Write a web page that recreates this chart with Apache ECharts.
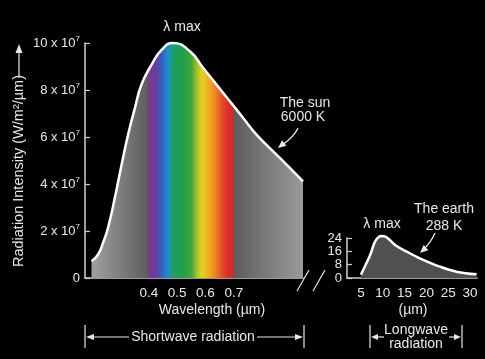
<!DOCTYPE html>
<html>
<head>
<meta charset="utf-8">
<script src="https://cdn.jsdelivr.net/npm/echarts@6/dist/echarts.min.js"></script>
<style>
html,body{margin:0;padding:0;background:#000;}
#c{width:485px;height:359px;}
</style>
</head>
<body>
<div id="c"></div>
<script>
// ---- data ----
// Sun (6000 K): wavelength (µm), radiation intensity in units of 10^7 W/m²/µm
const sunWavelength = [0.198,0.221,0.240,0.256,0.280,0.304,0.327,0.351,0.374,0.410,0.445,0.485,0.545,0.592,0.639,0.686,0.733,0.780,0.827,0.874,0.921,0.944];
const sunIntensity  = [0.71, 1.00, 1.55, 2.13, 3.40, 4.82, 6.10, 7.23, 8.23, 9.08, 9.71, 10.0, 9.65, 8.94, 8.23, 7.52, 6.81, 6.10, 5.53, 4.97, 4.40, 4.11];
// Earth (288 K): wavelength (µm), radiation intensity W/m²/µm
const earthWavelength = [5, 6, 7.1, 8.2, 9, 9.8, 10.6, 11.6, 13, 15.5, 18.5, 23.1, 26.9, 31.5];
const earthIntensity  = [2, 7.5, 13.8, 21.8, 24.5, 25.2, 24.8, 22.8, 19.5, 15.8, 11.8, 6.8, 3.8, 2.2];
// tick labels
const sunXTicks = [0.4, 0.5, 0.6, 0.7];
const sunYTicks = [0, 2, 4, 6, 8, 10];
const earthXTicks = [5, 10, 15, 20, 25, 30];
const earthYTicks = [0, 8, 16, 24];

// ---- style: colours along wavelength for the sun fill ----
const fillStops = [
  [0.198,'#a0a0a0'],[0.300,'#7e7e7e'],[0.395,'#5e5e5e'],
  [0.398,'#7a3a8a'],[0.425,'#6a3c9e'],[0.445,'#3a5cc0'],[0.462,'#1f86cc'],[0.475,'#1a98b8'],
  [0.485,'#1fa060'],[0.520,'#1f9e4a'],[0.550,'#3aa83a'],[0.570,'#a8c02a'],[0.588,'#e6d222'],
  [0.610,'#f0b023'],[0.635,'#ec8224'],[0.660,'#e24a28'],[0.680,'#dc2c2c'],[0.698,'#d42a2a'],
  [0.702,'#5c5c5c'],[0.800,'#767676'],[0.944,'#9a9a9a']
];

const FONT = 'Liberation Sans, Arial, Helvetica, sans-serif';
const TXT = '#e8e8e8';
const AX = '#cfcfcf';

const chart = echarts.init(document.getElementById('c'), null, {renderer:'canvas'});
const w0 = sunWavelength[0], w1 = sunWavelength[sunWavelength.length-1];
const sunGradient = new echarts.graphic.LinearGradient(0,0,1,0,
  fillStops.map(s => ({offset: Math.min(1, Math.max(0,(s[0]-w0)/(w1-w0))), color: s[1]})));

const sunData = sunWavelength.map((x,i)=>[x, sunIntensity[i]]);
const earthData = earthWavelength.map((x,i)=>[x, earthIntensity[i]]);

const axisCommon = {
  axisLine:{show:true, lineStyle:{color:AX, width:1.5}},
  axisTick:{show:true, inside:true, length:5, lineStyle:{color:AX, width:1.2}},
  splitLine:{show:false},
  axisLabel:{color:TXT, fontFamily:FONT, fontSize:13.5, showMinLabel:true, showMaxLabel:true, hideOverlap:false}
};

function arrowHead(tx, ty, dx, dy, len, half) {
  const n = Math.hypot(dx,dy); const ux=dx/n, uy=dy/n;
  const bx = tx-ux*len, by = ty-uy*len;
  return {type:'polygon', shape:{points:[[tx,ty],[bx-uy*half,by+ux*half],[bx+uy*half,by-ux*half]]}, style:{fill:TXT}};
}
function txt(x,y,t,size,align){
  return {type:'text', x:x, y:y, style:{text:t, fill:TXT, font:(size||14)+'px '+FONT, align:align||'center', verticalAlign:'middle'}};
}
function ln(x1,y1,x2,y2,wd){
  return {type:'line', shape:{x1,y1,x2,y2}, style:{stroke:TXT, lineWidth:wd||1.2}};
}

const option = {
  backgroundColor:'#000',
  animation:false,
  grid:[
    {left:85, top:43, right:182, bottom:81},
    {left:347, top:238, right:8, bottom:81}
  ],
  xAxis:[
    Object.assign({}, axisCommon, {gridIndex:0, type:'value', min:0.175, max:0.944,
      axisTick:Object.assign({}, axisCommon.axisTick, {customValues:sunXTicks}),
      axisLabel:Object.assign({}, axisCommon.axisLabel, {customValues:sunXTicks, margin:8, formatter:v=>String(v)})}),
    Object.assign({}, axisCommon, {gridIndex:1, type:'value', min:1.8, max:31.6,
      axisTick:Object.assign({}, axisCommon.axisTick, {customValues:earthXTicks}),
      axisLabel:Object.assign({}, axisCommon.axisLabel, {customValues:earthXTicks, margin:8})})
  ],
  yAxis:[
    Object.assign({}, axisCommon, {gridIndex:0, type:'value', min:0, max:10,
      axisTick:Object.assign({}, axisCommon.axisTick, {customValues:sunYTicks}),
      axisLabel:Object.assign({}, axisCommon.axisLabel, {customValues:sunYTicks, margin:5,
        formatter:v=> v===0 ? '{n|0}' : '{n|'+v+' x 10}{s|7}',
        rich:{n:{fontSize:13, fontFamily:FONT, color:TXT, lineHeight:16}, s:{fontSize:8, fontFamily:FONT, color:TXT, lineHeight:10, verticalAlign:'top'}}})}),
    Object.assign({}, axisCommon, {gridIndex:1, type:'value', min:0, max:24,
      axisTick:Object.assign({}, axisCommon.axisTick, {customValues:earthYTicks}),
      axisLabel:Object.assign({}, axisCommon.axisLabel, {customValues:earthYTicks, margin:5, fontSize:13, lineHeight:12})})
  ],
  series:[
    {type:'line', xAxisIndex:0, yAxisIndex:0, data:sunData, smooth:0.5, showSymbol:false, clip:false,
     lineStyle:{color:'#fff', width:2.5}, areaStyle:{color:sunGradient, opacity:1}},
    {type:'line', xAxisIndex:1, yAxisIndex:1, data:earthData, smooth:0.4, showSymbol:false, clip:false,
     lineStyle:{color:'#fff', width:2.5}, areaStyle:{color:'#505050', opacity:1}}
  ],
  graphic:[
    // y axis title with arrow
    {type:'text', x:19, y:171, rotation:Math.PI/2, style:{text:'Radiation Intensity (W/m²/µm)', fill:TXT, font:'14.5px '+FONT, align:'center', verticalAlign:'middle'}},
    ln(19,78,19,52,1.2),
    arrowHead(19,44,0,-1,9,3.5),
    // sun annotations
    txt(182,27,'λ max'),
    txt(305,103,'The sun'),
    txt(303,117,'6000 K'),
    {type:'bezierCurve', shape:{x1:298,y1:128,x2:282,y2:145,cpx1:294,cpy1:137}, style:{stroke:TXT, lineWidth:1.3, fill:null}},
    arrowHead(278,148,-1,0.8,8,3.5),
    txt(212,310,'Wavelength (µm)'),
    // axis break marks
    ln(297,291,309,270,1.2),
    ln(313,291,325,270,1.2),
    // shortwave bracket
    ln(85,325,85,348,1.2), ln(304,325,304,348,1.2),
    ln(92,337,129,337,1.2), arrowHead(86,337,-1,0,8,3),
    txt(193,337,'Shortwave radiation'),
    ln(257,337,297,337,1.2), arrowHead(303,337,1,0,8,3),
    // earth annotations
    txt(382,224,'λ max'),
    txt(444,209,'The earth'),
    txt(444,226,'288 K'),
    {type:'bezierCurve', shape:{x1:435,y1:233,x2:424,y2:249,cpx1:431,cpy1:242}, style:{stroke:TXT, lineWidth:1.3, fill:null}},
    arrowHead(420,253,-1,0.9,8,3.5),
    txt(413,310,'(µm)'),
    // longwave bracket
    ln(370,325,370,348,1.2), ln(462,325,462,348,1.2),
    txt(416,330,'Longwave'), txt(416,344,'radiation'),
    ln(376,337,384,337,1.2), arrowHead(371,337,-1,0,7,3),
    ln(449,337,456,337,1.2), arrowHead(461,337,1,0,7,3)
  ]
};
chart.setOption(option);
</script>
</body>
</html>
